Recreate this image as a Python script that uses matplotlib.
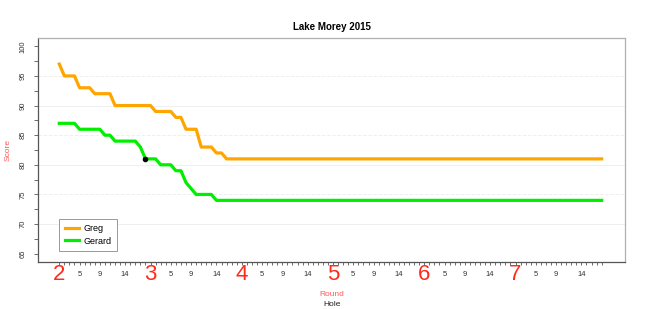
import matplotlib
matplotlib.use("Agg")
import matplotlib.pyplot as plt
import numpy as np

plt.rcParams["font.family"] = ["Liberation Sans", "DejaVu Sans"]

# hole-by-hole running scores, rounds 2..7, 18 holes each
rounds = [2, 3, 4, 5, 6, 7]
holes_per_round = 18
hole_labels = [5, 9, 14]
greg = ([97] + [95] * 3 + [93] * 3 + [92] * 4 + [90] * 8 + [89] * 4 + [88] * 2
        + [86] * 3 + [83] * 3 + [82] * 2 + [81] * 75)
gerard = ([87] * 4 + [86] * 5 + [85] * 2 + [84] * 5 + [83] + [81] * 3 + [80] * 3
          + [79] * 2 + [77] + [76] + [75] * 4 + [74] * 77)
marker_idx = 18  # black dot on Gerard's line

x = np.arange(1, len(greg) + 1)

fig = plt.figure(figsize=(6.45, 3.09), dpi=100)
ax = fig.add_axes([38 / 645, 1 - 262 / 309, 587 / 645, 224 / 309])

for v, ls in [(70, "-"), (75, "--"), (80, "-"), (85, "--"), (90, "-"), (95, "--")]:
    ax.axhline(v, color="#efefef", lw=0.7, ls=ls, zorder=0)

ax.plot(x, greg, color="#FFA500", lw=2.3, label="Greg", solid_joinstyle="round")
ax.plot(x, gerard, color="#00EE00", lw=2.3, label="Gerard", solid_joinstyle="round")
ax.plot(x[marker_idx - 1], gerard[marker_idx - 1], "o", color="black", ms=3, zorder=5)

ax.set_xlim(-3.2, 112.6)
ax.set_ylim(63.6, 101.4)

# x axis: big red round numbers at hole 1, small hole labels
starts = [1 + k * holes_per_round for k, r in enumerate(rounds)]
ax.set_xticks(starts)
ax.set_xticklabels([str(r) for r in rounds], color="#FF2A1A", fontsize=16)
ax.set_xticks(x, minor=True)
minor_lab = []
for i in x:
    h = (i - 1) % holes_per_round + 1
    minor_lab.append(str(h) if h in hole_labels else "")
ax.set_xticklabels(minor_lab, minor=True, fontsize=5.5, color="#333333")
ax.tick_params(axis="x", which="major", length=2.5, width=0.6, pad=-1, color="#555555")
ax.tick_params(axis="x", which="minor", length=2.5, width=0.6, pad=4, color="#555555")

ax.set_yticks([65, 70, 75, 80, 85, 90, 95, 100])
ax.set_yticks(np.arange(65, 101, 2.5), minor=True)
ax.tick_params(axis="y", which="both", length=3, width=0.6, color="#555555",
               labelsize=5.5, labelcolor="#333333", pad=5)
for t in ax.get_yticklabels():
    t.set_rotation(90)
    t.set_va("center")

for s in ["left", "bottom"]:
    ax.spines[s].set_color("#555555")
    ax.spines[s].set_linewidth(0.9)
for s in ["top", "right"]:
    ax.spines[s].set_color("#b0b0b0")
    ax.spines[s].set_linewidth(0.9)

ax.set_title("Lake Morey 2015", fontsize=7, fontweight="bold", pad=6)
ax.set_ylabel("Score", color="#FF5A5A", fontsize=6, labelpad=6)
fig.text(332 / 645, 1 - 295 / 309, "Round", color="#FF5A5A", fontsize=6,
         ha="center", va="center")
fig.text(332 / 645, 1 - 304 / 309, "Hole", color="#222222", fontsize=6,
         ha="center", va="center")

leg = ax.legend(loc="lower left", bbox_to_anchor=(0.036, 0.049), borderaxespad=0,
                fontsize=6.5, fancybox=False, edgecolor="#999999", framealpha=1,
                handlelength=1.6, handletextpad=0.5, borderpad=0.6, labelspacing=0.4)
leg.get_frame().set_linewidth(0.7)

fig.savefig("out.png", dpi=100)
